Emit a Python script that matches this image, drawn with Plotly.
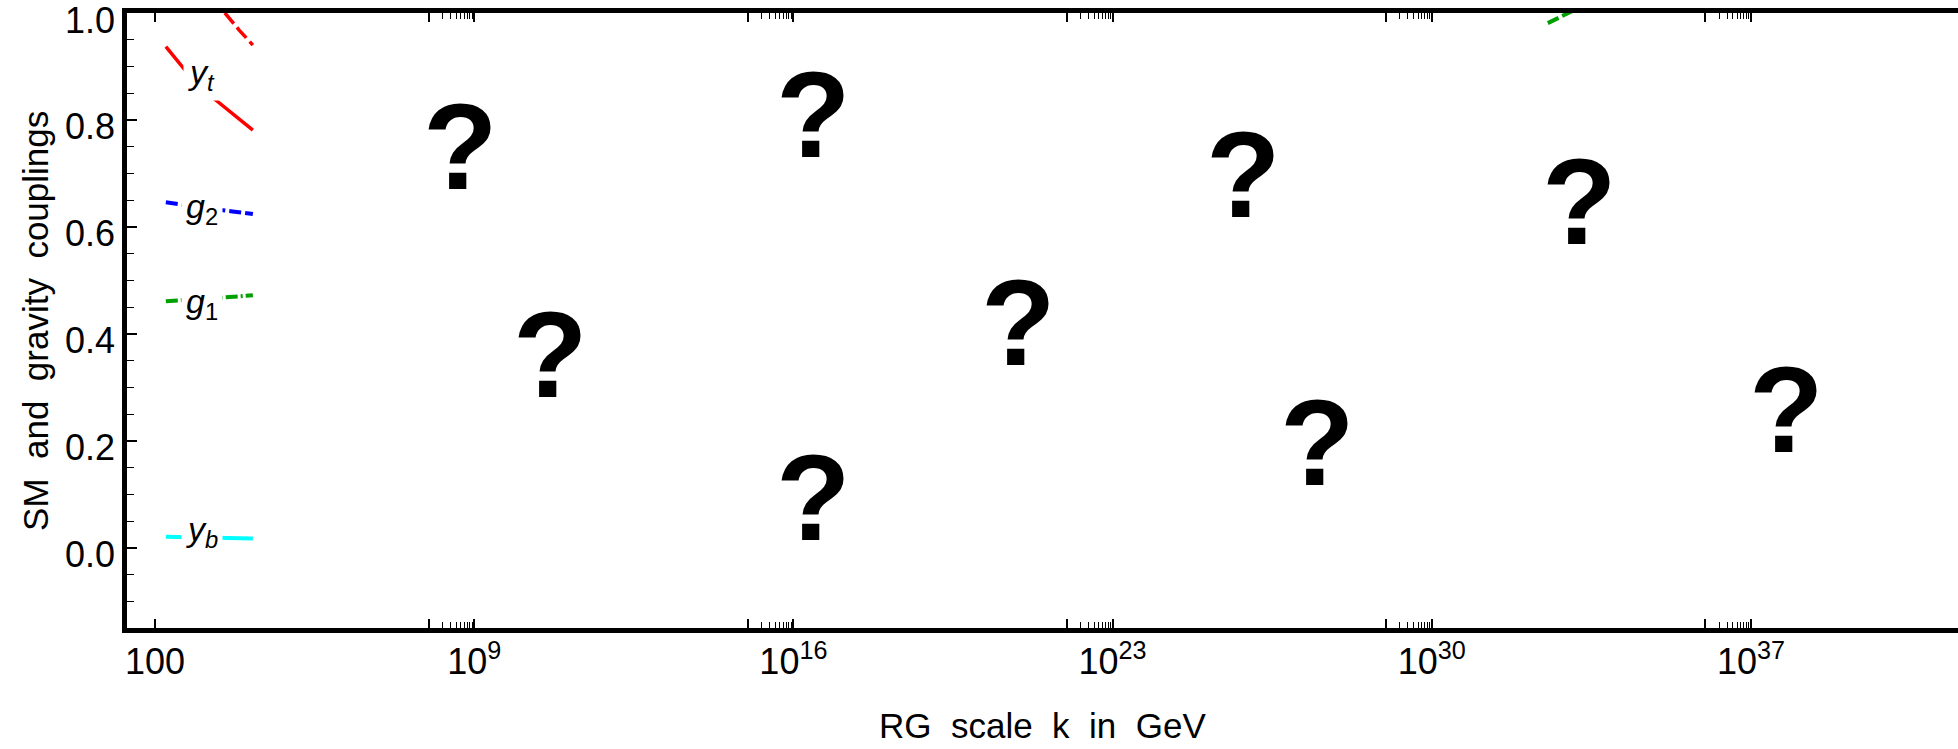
import plotly.graph_objects as go

# ---------------- data ----------------
# SM couplings from the top mass to 14 TeV
k_sm = [173, 500, 1500, 5000, 14000]
y_t = [0.937, 0.889, 0.848, 0.811, 0.781]
g_2 = [0.646, 0.640, 0.634, 0.629, 0.624]
g_1 = [0.461, 0.464, 0.467, 0.470, 0.472]
y_b = [0.0205, 0.0195, 0.0185, 0.0178, 0.0172]

# red dashed curve entering from the top
k_red_dash = [1000, 2000, 3500, 7000, 14000]
red_dash = [1.055, 1.023, 0.999, 0.968, 0.940]

# green dashed curve at the top right
k_green_dash = [3.5e32, 1.3e33]
green_dash = [0.981, 1.005]

# curve labels: (log10 k, y)
label_text = ["<i>y</i><sub><i>t</i></sub>", "<i>g</i><sub>2</sub>",
              "<i>g</i><sub>1</sub>", "<i>y</i><sub><i>b</i></sub>"]
label_log10k = [3.03, 3.03, 3.03, 3.03]
label_y = [0.885, 0.634, 0.457, 0.030]

# question marks: (log10 k, y)
q_log10k = [8.69, 16.45, 10.68, 20.93, 25.88, 16.45, 27.50, 33.25, 37.77]
q_y = [0.750, 0.810, 0.361, 0.421, 0.698, 0.093, 0.196, 0.647, 0.258]

# axis ticks
x_major_exp = [2, 8, 9, 15, 16, 22, 23, 29, 30, 36, 37]
x_labeled = {2: "100", 9: "10<sup>9</sup>", 16: "10<sup>16</sup>", 23: "10<sup>23</sup>",
             30: "10<sup>30</sup>", 37: "10<sup>37</sup>"}
y_major = [0.0, 0.2, 0.4, 0.6, 0.8, 1.0]
y_labels = ["0.0", "0.2", "0.4", "0.6", "0.8", "1.0"]

x_tickvals = [10.0 ** e for e in x_major_exp]
x_ticktext = [x_labeled.get(e, "") for e in x_major_exp]
x_minor = [m * 10.0 ** (e - 1) for e in [9, 16, 23, 30, 37] for m in range(2, 10)]
y_minor = [round(-0.15 + 0.05 * i, 2) for i in range(24)]

FONT = "Liberation Sans, Arial, Helvetica, sans-serif"
RED, BLUE, GREEN, CYAN = "#ff0000", "#0000ff", "#00a000", "#00ffff"

fig = go.Figure()
fig.add_trace(go.Scatter(x=k_red_dash, y=red_dash, mode="lines",
                         line=dict(color=RED, width=3.5, dash="14px,5px")))
fig.add_trace(go.Scatter(x=k_sm, y=y_t, mode="lines", line=dict(color=RED, width=3.5)))
fig.add_trace(go.Scatter(x=k_sm, y=g_2, mode="lines",
                         line=dict(color=BLUE, width=4, dash="12px,4px")))
fig.add_trace(go.Scatter(x=k_sm, y=g_1, mode="lines",
                         line=dict(color=GREEN, width=4, dash="12px,3px,2px,3px")))
fig.add_trace(go.Scatter(x=k_sm, y=y_b, mode="lines", line=dict(color=CYAN, width=4)))
fig.add_trace(go.Scatter(x=k_green_dash, y=green_dash, mode="lines",
                         line=dict(color=GREEN, width=4, dash="12px,4px")))

annotations = []
for t, lx, yy in zip(label_text, label_log10k, label_y):
    annotations.append(dict(x=lx, y=yy, xref="x", yref="y", text=t, showarrow=False,
                            xanchor="center", yanchor="middle", bgcolor="white",
                            borderpad=4, font=dict(family=FONT, size=34, color="black")))
for lx, yy in zip(q_log10k, q_y):
    annotations.append(dict(x=lx, y=yy, xref="x", yref="y", text="<b>?</b>", showarrow=False,
                            xanchor="center", yanchor="middle",
                            font=dict(family=FONT, size=122, color="black")))
# y tick labels (sit a few px below their ticks, as in the reference)
for v, t in zip(y_major, y_labels):
    annotations.append(dict(x=0, y=v, xref="paper", yref="y", text=t, showarrow=False,
                            xanchor="right", yanchor="middle", xshift=-10, yshift=-7,
                            font=dict(family=FONT, size=36, color="black")))
# axis titles
annotations.append(dict(x=0.5, y=-0.159, xref="paper", yref="paper", yanchor="middle",
                        text="RG \u00a0scale \u00a0k \u00a0in \u00a0GeV", showarrow=False,
                        font=dict(family=FONT, size=35, color="black")))
annotations.append(dict(x=-0.05, y=0.5, xref="paper", yref="paper", textangle=-90,
                        text="SM \u00a0and \u00a0gravity \u00a0couplings", showarrow=False,
                        xanchor="center", yanchor="middle",
                        font=dict(family=FONT, size=35, color="black")))

fig.update_layout(
    width=1958, height=749,
    margin=dict(l=127, r=0, t=13, b=121, autoexpand=False),
    paper_bgcolor="white", plot_bgcolor="white",
    showlegend=False,
    annotations=annotations,
    font=dict(family=FONT, color="black"),
)
fig.update_xaxes(
    type="log", range=[1.386, 41.54], automargin=False,
    showgrid=False, zeroline=False,
    showline=True, linewidth=5, linecolor="black", mirror="allticks",
    ticks="inside", ticklen=9, tickwidth=1.5, tickcolor="black",
    tickvals=x_tickvals, ticktext=x_ticktext,
    tickfont=dict(family=FONT, size=36, color="black"),
    ticklabelstandoff=-2, ticklabeloverflow="allow",
    minor=dict(tickvals=x_minor, ticks="inside", ticklen=6, tickwidth=1, tickcolor="black",
               showgrid=False),
)
fig.update_yaxes(
    range=[-0.15, 1.0], automargin=False,
    showgrid=False, zeroline=False,
    showline=True, linewidth=5, linecolor="black", mirror=False,
    ticks="inside", ticklen=10, tickwidth=1.5, tickcolor="black",
    tickvals=y_major, showticklabels=False,
    minor=dict(tickvals=y_minor, ticks="inside", ticklen=7, tickwidth=1, tickcolor="black",
               showgrid=False),
)

# remove the default 8px page margin so the 1958x749 figure fills the window exactly
fig.write_html("out.html", config={"displayModeBar": False},
               post_script="document.body.style.margin='0';")
